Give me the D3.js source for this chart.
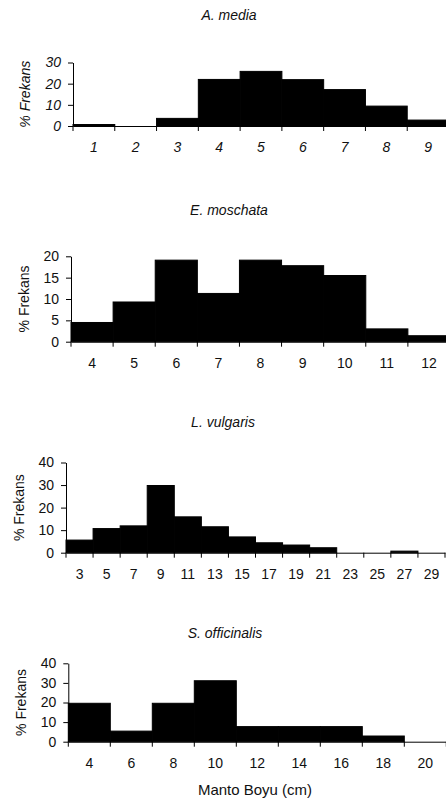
<!DOCTYPE html>
<html>
<head>
<meta charset="utf-8">
<script src="https://cdn.jsdelivr.net/npm/d3@7"></script>
<style>
  body { margin: 0; background: #fff; }
  text { font-family: Arial, "Liberation Sans", sans-serif; fill: #111; }
</style>
</head>
<body>
<svg id="canvas" width="446" height="805"></svg>
<script>
// species histograms of mantle length (% frequency per size class)
let titles = ["A. media", "E. moschata", "L. vulgaris", "S. officinalis"]

let aMediaBins = ["1", "2", "3", "4", "5", "6", "7", "8", "9"]
let aMediaValues = [0.7, 0, 3.6, 22, 25.8, 21.9, 17.2, 9.4, 2.8]
let aMediaTicks = [0, 10, 20, 30]

let eMoschataBins = ["4", "5", "6", "7", "8", "9", "10", "11", "12"]
let eMoschataValues = [4.5, 9.3, 19.1, 11.3, 19.1, 17.8, 15.5, 3.0, 1.4]
let eMoschataTicks = [0, 5, 10, 15, 20]

let lVulgarisBins = ["3", "5", "7", "9", "11", "13", "15", "17", "19", "21", "23", "25", "27", "29"]
let lVulgarisValues = [5.6, 10.7, 11.9, 29.8, 15.9, 11.5, 7.0, 4.4, 3.4, 2.2, 0, 0, 0.7, 0]
let lVulgarisTicks = [0, 10, 20, 30, 40]

let sOfficinalisBins = ["4", "6", "8", "10", "12", "14", "16", "18", "20"]
let sOfficinalisValues = [19.6, 5.4, 19.6, 31.1, 7.7, 7.7, 7.7, 2.9, 0]
let sOfficinalisTicks = [0, 10, 20, 30, 40]

let yLabel = "% Frekans"
let xLabel = "Manto Boyu (cm)"

let canvas = d3.select("#canvas")

// frame of each panel in pixels
let panels = [
    { bins: aMediaBins, values: aMediaValues, ticks: aMediaTicks, left: 73, right: 449, top: 62.5, bottom: 126, titleY: 15.5, titleX: 229, labelX: 25, italic: true },
    { bins: eMoschataBins, values: eMoschataValues, ticks: eMoschataTicks, left: 71, right: 450, top: 256.3, bottom: 341.7, titleY: 210, titleX: 229, labelX: 24, italic: false },
    { bins: lVulgarisBins, values: lVulgarisValues, ticks: lVulgarisTicks, left: 66, right: 445, top: 462.5, bottom: 552.7, titleY: 422, titleX: 223, labelX: 19, italic: false },
    { bins: sOfficinalisBins, values: sOfficinalisValues, ticks: sOfficinalisTicks, left: 68.3, right: 446.3, top: 663.3, bottom: 741.7, titleY: 633.5, titleX: 225, labelX: 21, italic: false }
]

let drawPanel = (p, i) => {
    let g = canvas.append("g")
    let fontStyle = p.italic ? "italic" : "normal"

    let x = d3.scaleBand()
        .domain(p.bins)
        .range([p.left, p.right])
        .padding(0)

    let y = d3.scaleLinear()
        .domain([0, d3.max(p.ticks)])
        .range([p.bottom, p.top])

    g.selectAll("rect")
        .data(p.values)
        .enter()
        .append("rect")
        .attr("x", (d, j) => x(p.bins[j]))
        .attr("y", d => y(d))
        .attr("width", x.bandwidth())
        .attr("height", d => y(0) - y(d))
        .attr("fill", "#000")
        .attr("stroke", "#000")
        .attr("stroke-width", 1)

    let yAxis = d3.axisLeft(y)
        .tickValues(p.ticks)
        .tickSize(5)
        .tickSizeOuter(0)
        .tickPadding(7)

    g.append("g")
        .attr("transform", "translate(" + p.left + ",0)")
        .call(yAxis)
        .call(a => a.selectAll("text")
            .attr("font-size", 14)
            .style("font-style", fontStyle))

    let xAxis = d3.axisBottom(x)
        .tickSize(0)
        .tickSizeOuter(0)
        .tickPadding(16)

    g.append("g")
        .attr("transform", "translate(0," + y(0) + ")")
        .call(xAxis)
        .call(a => a.selectAll("text")
            .attr("font-size", 14)
            .style("font-style", fontStyle))

    // tick marks sit on the class boundaries
    let edges = p.bins.map(b => x(b)).concat([x.range()[1]])
    g.selectAll(".edge")
        .data(edges)
        .enter()
        .append("line")
        .attr("class", "edge")
        .attr("x1", d => d)
        .attr("x2", d => d)
        .attr("y1", y(0))
        .attr("y2", y(0) + 5)
        .attr("stroke", "#000")

    g.append("text")
        .attr("x", p.titleX)
        .attr("y", p.titleY)
        .attr("dy", "0.35em")
        .attr("text-anchor", "middle")
        .attr("font-size", 14)
        .style("font-style", "italic")
        .text(titles[i])

    g.append("text")
        .attr("transform", "translate(" + p.labelX + "," + (p.top + p.bottom) / 2 + ") rotate(-90)")
        .attr("dy", "0.35em")
        .attr("text-anchor", "middle")
        .attr("font-size", 14)
        .style("font-style", fontStyle)
        .text(yLabel)
}

panels.forEach(drawPanel)

canvas.append("text")
    .attr("x", 255)
    .attr("y", 790)
    .attr("dy", "0.35em")
    .attr("text-anchor", "middle")
    .attr("font-size", 15)
    .text(xLabel)
</script>
</body>
</html>
